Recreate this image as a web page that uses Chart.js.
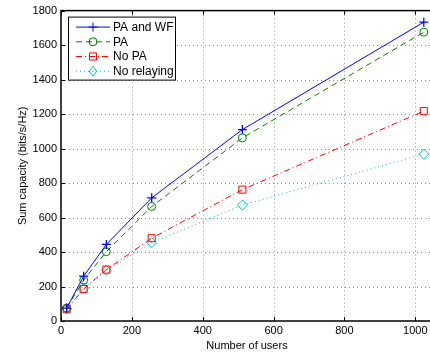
<!doctype html>
<html lang="en">
<head>
<meta charset="utf-8">
<title>Sum capacity</title>
<script src="https://cdn.jsdelivr.net/npm/chart.js"></script>
<style>
  html, body { margin: 0; padding: 0; background: #fff; overflow: hidden; }
  #wrap { width: 440px; height: 356px; }
</style>
</head>
<body>
<div id="wrap"><canvas id="myChart"></canvas></div>
<script>
// number of users on the x axis
const users = [16, 64, 128, 256, 512, 1024];

// sum capacity (bits/s/Hz) for each scheme
const paAndWf    = [75, 260, 444, 714, 1110, 1733];
const paOnly     = [75, 237, 402, 664, 1062, 1675];
const noPa       = [68, 185, 298, 480, 762, 1217];
const noRelaying = [70, 190, 294, 454, 672, 968];

const seriesNames = ["PA and WF", "PA", "No PA", "No relaying"];
const yTicks = [0, 200, 400, 600, 800, 1000, 1200, 1400, 1600, 1800];
const xTicks = [0, 200, 400, 600, 800, 1000];

function pts(vals) {
  return users.map((u, i) => ({ x: u, y: vals[i] }));
}

const font = { family: "'Liberation Sans', Arial, sans-serif", size: 11 };

// dotted grid drawn under the lines
const gridPlugin = {
  id: "gridPlugin",
  beforeDatasetsDraw(chart) {
    const c = chart.ctx;
    const a = chart.chartArea;
    const xs = chart.scales.x, ys = chart.scales.y;
    c.save();
    c.strokeStyle = "#8c8c8c";
    c.lineWidth = 1;
    c.setLineDash([1, 3]);
    c.beginPath();
    xTicks.forEach(t => {
      if (t === 0) return;
      const px = Math.round(xs.getPixelForValue(t)) + 0.5;
      c.moveTo(px, a.top); c.lineTo(px, a.bottom);
    });
    yTicks.forEach(t => {
      if (t === 0 || t === 1800) return;
      const py = Math.round(ys.getPixelForValue(t)) + 0.5;
      c.moveTo(a.left, py); c.lineTo(a.right, py);
    });
    c.stroke();
    c.restore();
  }
};

// draws the box, inward ticks and the matlab style legend
const boxPlugin = {
  id: "boxPlugin",
  afterDraw(chart) {
    const c = chart.ctx;
    const a = chart.chartArea;
    const xs = chart.scales.x, ys = chart.scales.y;
    c.save();
    c.strokeStyle = "#000";
    c.lineWidth = 1;
    c.beginPath();
    xTicks.forEach(t => {
      const px = Math.round(xs.getPixelForValue(t)) + 0.5;
      c.moveTo(px, a.bottom); c.lineTo(px, a.bottom - 4);
      c.moveTo(px, a.top); c.lineTo(px, a.top + 4);
    });
    yTicks.forEach(t => {
      const py = Math.round(ys.getPixelForValue(t)) + 0.5;
      c.moveTo(a.left, py); c.lineTo(a.left + 4, py);
    });
    c.stroke();
    c.lineWidth = 1.5;
    c.strokeRect(a.left, a.top, a.right - a.left, a.bottom - a.top);

    // legend
    const lx = a.left + 7, ly = a.top + 6, lw = 107, lh = 63;
    c.fillStyle = "#fff";
    c.fillRect(lx, ly, lw, lh);
    c.lineWidth = 1;
    c.strokeRect(lx + 0.5, ly + 0.5, lw, lh);
    c.font = "12px " + font.family;
    c.textBaseline = "middle";
    chart.data.datasets.forEach((ds, i) => {
      const y = ly + 10.5 + i * 14.7;
      const x0 = lx + 8, x1 = lx + 42, xm = (x0 + x1) / 2;
      c.strokeStyle = ds.borderColor;
      c.lineWidth = 1;
      c.setLineDash(ds.borderDash || []);
      c.beginPath(); c.moveTo(x0, y); c.lineTo(x1, y); c.stroke();
      c.setLineDash([]);
      drawMarker(c, ds.pointStyle, xm, y, ds.pointRadius, ds.borderColor);
      c.fillStyle = "#000";
      c.fillText(ds.label, lx + 45, y + 0.5);
    });
    c.restore();
  }
};

function drawMarker(c, style, x, y, r, col) {
  c.strokeStyle = col;
  c.lineWidth = 1;
  c.beginPath();
  if (style === "cross") {
    c.moveTo(x - r, y); c.lineTo(x + r, y);
    c.moveTo(x, y - r); c.lineTo(x, y + r);
  } else if (style === "circle") {
    c.arc(x, y, r, 0, Math.PI * 2);
  } else if (style === "rect") {
    const s = r * Math.SQRT1_2;
    c.rect(x - s, y - s, 2 * s, 2 * s);
  } else if (style === "rectRot") {
    c.moveTo(x, y - r); c.lineTo(x + r * 0.75, y);
    c.lineTo(x, y + r); c.lineTo(x - r * 0.75, y); c.closePath();
  }
  c.stroke();
}

const ctx = document.getElementById("myChart");
const myChart = new Chart(ctx, {
  type: "line",
  data: {
    datasets: [
      {
        label: seriesNames[0], data: pts(paAndWf),
        borderColor: "#0000ff", borderWidth: 1,
        pointStyle: "cross", pointRadius: 4.5, pointBorderWidth: 1.3,
        pointBackgroundColor: "transparent"
      },
      {
        label: seriesNames[1], data: pts(paOnly),
        borderColor: "#008000", borderWidth: 1, borderDash: [6, 4],
        pointStyle: "circle", pointRadius: 4, pointBorderWidth: 1,
        pointBackgroundColor: "transparent"
      },
      {
        label: seriesNames[2], data: pts(noPa),
        borderColor: "#ff0000", borderWidth: 1, borderDash: [6, 3, 1, 3],
        pointStyle: "rect", pointRadius: 5, pointBorderWidth: 1,
        pointBackgroundColor: "transparent"
      },
      {
        label: seriesNames[3], data: pts(noRelaying),
        borderColor: "#00bfbf", borderWidth: 1, borderDash: [1, 3],
        pointStyle: "rectRot", pointRadius: 5, pointBorderWidth: 1,
        pointBackgroundColor: "transparent"
      }
    ]
  },
  options: {
    responsive: true,
    maintainAspectRatio: false,
    animation: false,
    layout: { padding: { top: 9, right: 7, left: 0, bottom: 0 } },
    plugins: { legend: { display: false }, tooltip: { enabled: false } },
    elements: { line: { tension: 0 } },
    scales: {
      x: {
        type: "linear", min: 0, max: 1050,
        ticks: { stepSize: 200, includeBounds: false, color: "#000", font: font, padding: 3, maxRotation: 0,
                 callback: v => String(v) },
        grid: { display: false, drawTicks: false },
        border: { display: false },
        title: { display: true, text: "Number of users", color: "#000", font: font, padding: { top: 0, bottom: 3 } },
        afterFit(scale) { scale.height = 35; }
      },
      y: {
        min: 0, max: 1800,
        ticks: { stepSize: 200, color: "#000", font: font, padding: 4, callback: v => String(v) },
        grid: { display: false, drawTicks: false },
        border: { display: false },
        title: { display: true, text: "Sum capacity (bits/s/Hz)", color: "#000", font: font, padding: { top: 16, bottom: 6 } },
        afterFit(scale) { scale.width = 61; }
      }
    }
  },
  plugins: [gridPlugin, boxPlugin]
});
</script>
</body>
</html>
